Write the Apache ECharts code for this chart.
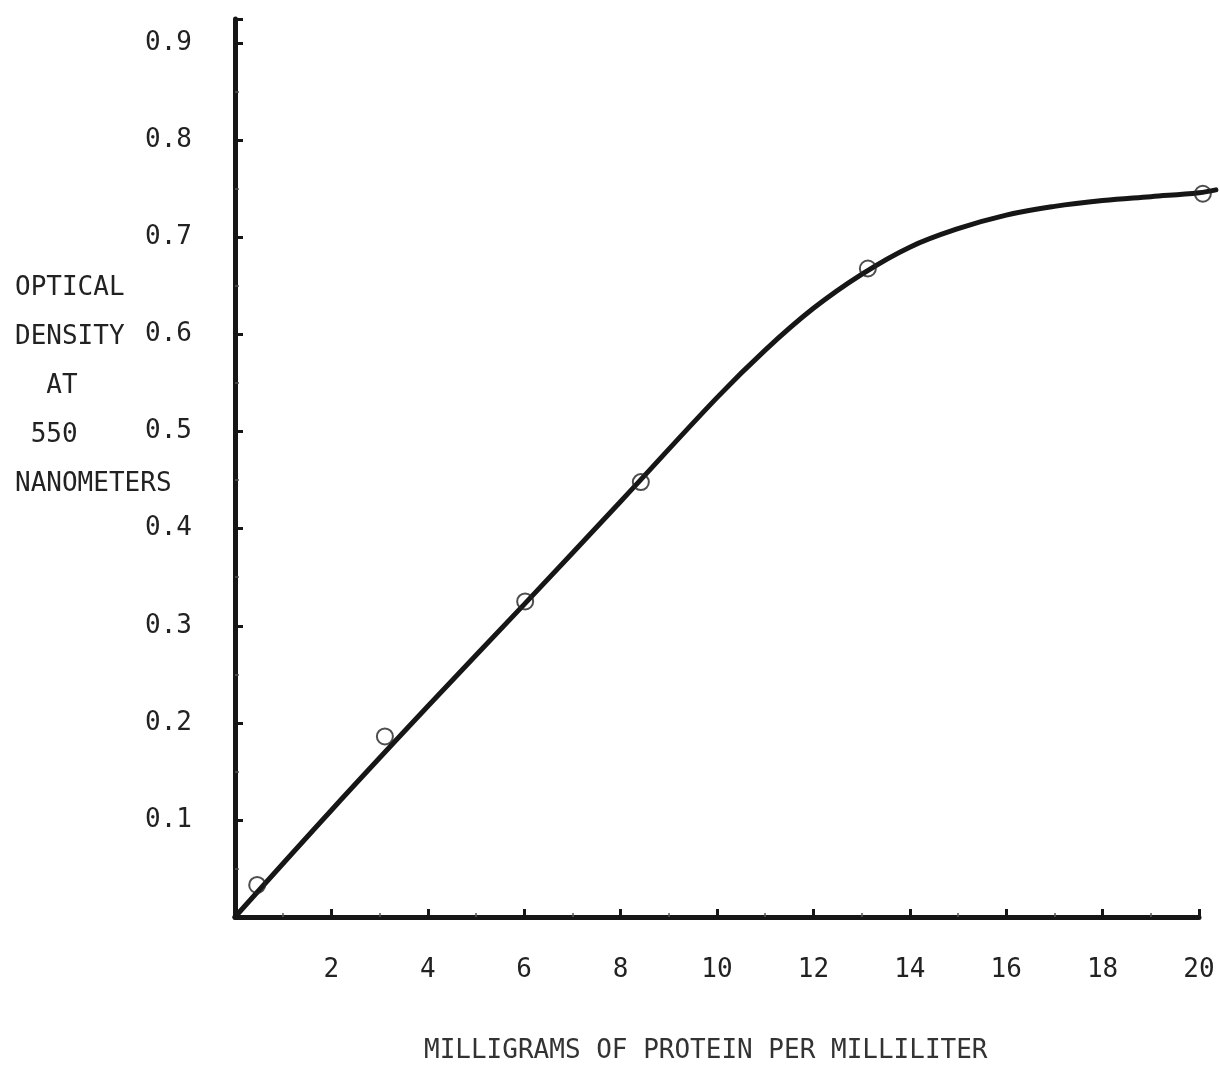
<!DOCTYPE html>
<html>
<head>
<meta charset="utf-8">
<script src="https://cdn.jsdelivr.net/npm/echarts@6/dist/echarts.min.js"></script>
<style>
  html, body { margin: 0; padding: 0; background: #fff; }
  #chart { width: 1220px; height: 1065px; }
</style>
</head>
<body>
<div id="chart"></div>
<script>
// Measured calibration points: protein concentration (mg/ml) vs optical density at 550 nm
const concentration = [0.46, 3.11, 6.02, 8.42, 13.13, 20.08];
const opticalDensity = [0.033, 0.186, 0.325, 0.448, 0.668, 0.745];

// Hand-fitted calibration curve, read along its length (it runs slightly past the last tick)
const curveX = [0, 2, 4, 6, 8, 10, 11, 12, 13, 14, 15, 16, 17, 18, 19, 20, 20.35];
const curveY = [0, 0.11, 0.217, 0.322, 0.428, 0.535, 0.584, 0.627, 0.662, 0.69, 0.709, 0.723, 0.732, 0.738, 0.742, 0.746, 0.749];

// Axis ranges and tick spacing
const xRange = [0, 20], xStep = 2;
const xCurveMax = 20.35;
const yRange = [0, 0.925], yStep = 0.1;

const xAxisTitle = 'MILLIGRAMS OF PROTEIN PER MILLILITER';
const yAxisTitleLines = ['OPTICAL', 'DENSITY', '  AT', ' 550', 'NANOMETERS'];

const FONT = '"DejaVu Sans Mono", "Liberation Mono", monospace';
const INK = '#161616';

// Plot box: the drawn axes span [0, 20]; a second, invisible grid with the
// same scale reaches 20.35 so the curve can run past the axis end.
const PLOT_LEFT = 235, PLOT_RIGHT_EDGE = 1199, PLOT_TOP = 19, PLOT_BOTTOM = 148, WIDTH = 1220;
const pxPerUnit = (PLOT_RIGHT_EDGE - PLOT_LEFT) / (xRange[1] - xRange[0]);
const curveRight = WIDTH - (PLOT_LEFT + xCurveMax * pxPerUnit);

const chart = echarts.init(document.getElementById('chart'), null, { renderer: 'canvas' });

const axisCommon = {
  axisLine: { show: true, onZero: false, lineStyle: { color: INK, width: 5, cap: 'round' } },
  axisTick: { show: true, inside: true, length: 8, lineStyle: { color: INK, width: 3 } },
  minorTick: { show: true, splitNumber: 2, length: 4, lineStyle: { color: '#555', width: 1.5 } },
  splitLine: { show: false },
  axisLabel: { color: '#222', fontFamily: FONT, fontSize: 26 }
};
const hiddenAxis = {
  axisLine: { show: false }, axisTick: { show: false }, minorTick: { show: false },
  axisLabel: { show: false }, splitLine: { show: false }
};

chart.setOption({
  backgroundColor: '#ffffff',
  animation: false,
  grid: [
    { left: PLOT_LEFT, right: WIDTH - PLOT_RIGHT_EDGE, top: PLOT_TOP, bottom: PLOT_BOTTOM, containLabel: false },
    { left: PLOT_LEFT, right: curveRight, top: PLOT_TOP, bottom: PLOT_BOTTOM, containLabel: false }
  ],
  xAxis: [
    Object.assign({}, axisCommon, {
      type: 'value', gridIndex: 0,
      min: xRange[0], max: xRange[1], interval: xStep,
      axisLabel: Object.assign({}, axisCommon.axisLabel, { margin: 40, showMinLabel: false })
    }),
    Object.assign({}, hiddenAxis, { type: 'value', gridIndex: 1, min: xRange[0], max: xCurveMax })
  ],
  yAxis: [
    Object.assign({}, axisCommon, {
      type: 'value', gridIndex: 0,
      min: yRange[0], max: yRange[1], interval: yStep,
      axisLabel: Object.assign({}, axisCommon.axisLabel, {
        margin: 43, showMinLabel: false, showMaxLabel: false,
        formatter: v => v.toFixed(1)
      })
    }),
    Object.assign({}, hiddenAxis, { type: 'value', gridIndex: 1, min: yRange[0], max: yRange[1] })
  ],
  graphic: [
    {
      type: 'text', left: 15, top: 264,
      style: {
        text: yAxisTitleLines.join('\n'),
        font: '26px ' + FONT, fill: '#222', lineHeight: 49
      }
    },
    {
      type: 'text', left: 424, top: 1038,
      style: { text: xAxisTitle, font: '26px ' + FONT, fill: '#333' }
    }
  ],
  series: [
    {
      type: 'line',
      xAxisIndex: 1, yAxisIndex: 1,
      data: curveX.map((x, i) => [x, curveY[i]]),
      smooth: 0.4,
      showSymbol: false,
      clip: false,
      lineStyle: { color: INK, width: 5, cap: 'round' },
      z: 3
    },
    {
      type: 'scatter',
      xAxisIndex: 0, yAxisIndex: 0,
      data: concentration.map((x, i) => [x, opticalDensity[i]]),
      symbol: 'circle',
      symbolSize: 16,
      clip: false,
      itemStyle: { color: 'rgba(255,255,255,0)', borderColor: '#222', borderWidth: 2 },
      z: 4
    }
  ]
});
</script>
</body>
</html>
